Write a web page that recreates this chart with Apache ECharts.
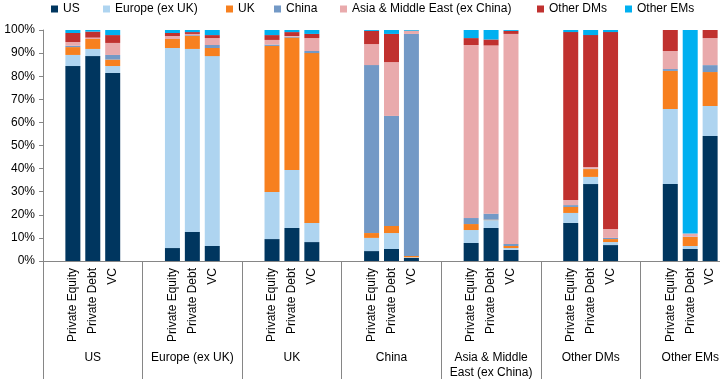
<!DOCTYPE html>
<html><head><meta charset="utf-8">
<script src="https://cdn.jsdelivr.net/npm/echarts@6/dist/echarts.min.js"></script>
<style>html,body{margin:0;padding:0;background:#fff}#c{width:720px;height:379px}</style>
</head><body><div id="c"></div>
<script>
const groups = ['US','Europe (ex UK)','UK','China','Asia & Middle\nEast (ex China)','Other DMs','Other EMs'];
const types = ['Private Equity','Private Debt','VC'];
const seriesNames = ['US','Europe (ex UK)','UK','China','Asia & Middle East (ex China)','Other DMs','Other EMs'];
const yTicks = [0,10,20,30,40,50,60,70,80,90,100];
// values per bar: group order, then PE, PD, VC
const usVals     = [84.4,88.7,81.4, 5.6,12.6,6.5, 9.5,14.3,8.2, 4.3,5.2,1.3, 7.8,14.3,4.8, 16.5,33.3,6.9, 33.3,5.2,54.1];
const europeVals = [4.8,3.1,3.0, 86.6,79.2,82.2, 20.4,25.1,8.3, 5.7,6.9,0.3, 5.6,3.4,0.8, 4.3,3.1,1.3, 32.5,1.3,13.0];
const ukVals     = [3.4,4.3,2.8, 3.9,5.7,3.5, 63.2,57.3,73.5, 2.1,3.1,0.6, 2.6,0.2,0.9, 2.6,3.4,1.3, 16.5,3.9,14.7];
const chinaVals  = [0.6,0,2.0, 0,0.3,1.3, 0.6,0.4,0.9, 72.7,47.6,96.1, 2.6,2.6,0.9, 0.8,0.2,0.5, 0.8,0.2,3.0];
const asiaVals   = [1.6,0.6,5.2, 1.3,0.5,3.0, 2.0,0.3,5.6, 9.1,23.3,1.3, 74.9,72.8,90.9, 2.2,0.7,3.9, 7.8,1.3,11.7];
const dmVals     = [3.9,2.6,3.4, 1.3,0.8,1.3, 2.1,1.7,1.8, 5.7,12.2,0.1, 3.0,2.6,1.3, 72.7,57.1,85.2, 9.1,0,3.5];
const emVals     = [1.3,0.7,2.2, 1.3,0.9,2.2, 2.2,0.9,1.7, 0.4,1.7,0.3, 3.5,4.1,0.4, 0.9,2.2,0.9, 0,88.1,0];
const allVals = [usVals,europeVals,ukVals,chinaVals,asiaVals,dmVals,emVals];
const colors = ['#00365F','#AED4F0','#F7801F','#7399C6','#E9AAAC','#C0312F','#00B0F0'];
const legendTextX = [62,114,237,285,351,548,636];

const FONT = '"Liberation Sans", Arial, sans-serif';
// 5 slots per group: blank, PE, PD, VC, blank
const slots = [];
groups.forEach(() => { slots.push(''); types.forEach(t => slots.push(t)); slots.push(''); });
function pad(a){
  const out = [];
  for (let g = 0; g < groups.length; g++) {
    out.push('-'); out.push(a[3*g]); out.push(a[3*g+1]); out.push(a[3*g+2]); out.push('-');
  }
  return out;
}
const axisGray = '#868686';
const chart = echarts.init(document.getElementById('c'), null, {renderer:'canvas'});
chart.setOption({
  animation:false,
  textStyle:{fontFamily:FONT},
  legend: seriesNames.map((n,i)=>({
    data:[n], left:legendTextX[i]-11, top:3, icon:'rect', itemWidth:7, itemHeight:7,
    itemGap:0, padding:0, textStyle:{fontSize:12, color:'#000', fontFamily:FONT}
  })),
  grid:{left:43, top:30, bottom:118, width:697, containLabel:false, outerBoundsMode:'none'},
  xAxis:[
    {type:'category', data:slots, position:'bottom',
     axisLine:{show:true, lineStyle:{color:axisGray}},
     axisTick:{show:false},
     axisLabel:{interval:0, rotate:90, margin:7, fontSize:12, color:'#000', fontFamily:FONT}},
    {type:'category', data:groups, position:'bottom', offset:0,
     axisLine:{show:true, lineStyle:{color:axisGray}},
     axisTick:{show:true, length:130, lineStyle:{color:axisGray}},
     axisLabel:{interval:0, margin:89, fontSize:12, color:'#000', lineHeight:15, fontFamily:FONT}}
  ],
  yAxis:{type:'value', min:0, max:100, interval:10,
    axisLine:{show:true, lineStyle:{color:axisGray}},
    axisTick:{show:true, length:4, lineStyle:{color:axisGray}},
    splitLine:{show:false},
    axisLabel:{formatter:'{value}%', fontSize:12, color:'#000', margin:8, fontFamily:FONT}},
  series: seriesNames.map((n,i)=>({
    name:n, type:'bar', stack:'total', xAxisIndex:0, barWidth:15,
    itemStyle:{color:colors[i]}, data:pad(allVals[i])
  }))
});
</script></body></html>
